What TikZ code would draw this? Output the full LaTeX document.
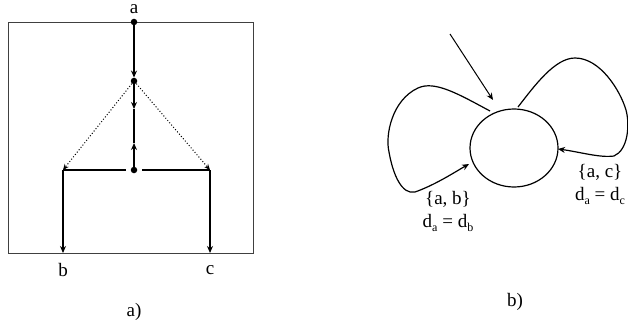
\documentclass[tikz,border=0pt]{standalone}
\usepackage{fontspec}
\setmainfont{Liberation Serif}
\usetikzlibrary{arrows.meta,shapes.geometric}
\newcommand{\sbs}[1]{\raisebox{-0.45ex}{\fontsize{12}{12}\selectfont #1}}
\begin{document}
\begin{tikzpicture}[x=1pt,y=-1pt,
  lbl/.style={font=\fontsize{19}{20}\selectfont, inner sep=0pt},
  dotn/.style={circle, fill=black, inner sep=0pt, minimum size=6.5pt},
  ln/.style={line width=1.2pt},
  tip/.style={-{Stealth[length=7pt,width=6pt]}},
  dotline/.style={line width=1pt, dotted, -{Stealth[length=6pt,width=5pt]}}]
\useasboundingbox (0,0) rectangle (628,326);
% ---- part a
\draw[line width=0.9pt, black!75] (8,22) rectangle (253,253);
\node[dotn] (top) at (134,22) {};
\node[dotn] (mid) at (134,81) {};
\node[dotn] (bot) at (134,170) {};
\coordinate (lc) at (63,170);
\coordinate (rc) at (210,170);
\coordinate (lb) at (63,253);
\coordinate (rb) at (210,253);
\coordinate (m1) at (134,109);
\coordinate (m2) at (134,143);
\node[lbl] (la) at (134,9) {a};
\node[lbl] (lbb) at (63,270) {b};
\node[lbl] (lcc) at (210,270) {c};
\node[lbl] (capa) at (134,312) {a)};
\draw[ln, tip] (top) -- (mid.north);
\draw[ln, tip] (mid) -- (m1);
\draw[ln] (m1) -- (m2);
\draw[ln, tip] (bot) -- (m2);
\draw[ln] (lc) -- ([xshift=-5pt]bot.west);
\draw[ln] ([xshift=5pt]bot.east) -- (rc);
\draw[ln, tip] (lc) -- (lb);
\draw[ln, tip] (rc) -- (rb);
\draw[dotline] (mid) -- (lc);
\draw[dotline] (mid) -- (rc);
% ---- part b
\node[draw, ellipse, line width=1.2pt, minimum width=88pt, minimum height=78pt, inner sep=0pt] (E) at (514,148) {};
\coordinate (inS) at (450,34);
\draw[line width=1pt, tip] (inS) -- (493,100);
\coordinate (L0) at (490,111);
\draw[ln, tip] (L0) .. controls (460,95) and (435,80) .. (418,88)
  .. controls (392,100) and (385,135) .. (389,152)
  .. controls (393,175) and (402,195) .. (415,192)
  .. controls (435,185) and (455,172) .. (469,164);
\coordinate (R0) at (518,107);
\draw[ln, tip] (R0) .. controls (535,85) and (555,58) .. (575,58)
  .. controls (600,58) and (620,90) .. (626,110)
  .. controls (630,125) and (628,150) .. (614,156)
  .. controls (600,158) and (580,152) .. (558,149);
\node[lbl] (s1) at (448,199) {\{a, b\}};
\node[lbl] (s2) at (448,223) {d\sbs{a} = d\sbs{b}};
\node[lbl] (s3) at (600,172) {\{a, c\}};
\node[lbl] (s4) at (600,196) {d\sbs{a} = d\sbs{c}};
\node[lbl] (capb) at (515,302) {b)};
\end{tikzpicture}
\end{document}
